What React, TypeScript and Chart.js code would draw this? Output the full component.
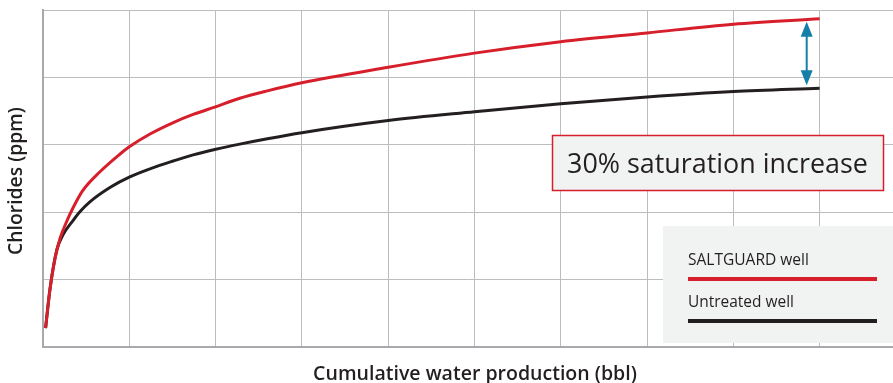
import React, { useEffect, useRef } from "react";
import { Chart, registerables } from "chart.js";

Chart.register(...registerables);

// Cumulative water production (grid units) and chlorides (grid units)
const saltguardX = [0.03, 0.08, 0.14, 0.2, 0.28, 0.35, 0.46, 0.66, 0.89, 1.0, 1.24, 1.51, 1.74, 1.99, 2.28, 2.6, 3.0, 4.0, 5.0, 6.0, 7.0, 8.0, 9.0];
const saltguardY = [0.28, 0.85, 1.32, 1.62, 1.88, 2.07, 2.32, 2.6, 2.86, 2.97, 3.16, 3.33, 3.45, 3.56, 3.69, 3.8, 3.92, 4.15, 4.36, 4.53, 4.66, 4.79, 4.87];

const untreatedX = [0.03, 0.08, 0.16, 0.23, 0.35, 0.43, 0.54, 0.78, 1.0, 1.32, 1.51, 1.74, 1.99, 2.28, 2.6, 3.0, 4.0, 5.0, 6.0, 7.0, 8.0, 9.0];
const untreatedY = [0.28, 0.85, 1.44, 1.66, 1.88, 2.01, 2.15, 2.37, 2.52, 2.68, 2.76, 2.85, 2.93, 3.01, 3.09, 3.18, 3.36, 3.49, 3.61, 3.71, 3.79, 3.84];

const seriesLabels = ["SALTGUARD well", "Untreated well"];
const xTitle = "Cumulative water production (bbl)";
const yTitle = "Chlorides (ppm)";
const annotationText = "30% saturation increase";
const arrowX = 8.85;

const RED = "#d71f2b";
const BLACK = "#231f20";
const TEAL = "#1480a7";
const GRID = "#bcbdc0";
const AXIS = "#a7a9ac";
const BOX = "#f1f2f2";
const FONT = '"Open Sans", sans-serif';

function fitFont(ctx: CanvasRenderingContext2D, text: string, weight: string, width: number) {
  ctx.font = `${weight} 100px ${FONT}`;
  const w = ctx.measureText(text).width;
  const size = (100 * width) / w;
  ctx.font = `${weight} ${size}px ${FONT}`;
}

const decorations = {
  id: "decorations",
  afterDraw(chart: any) {
    const ctx: CanvasRenderingContext2D = chart.ctx;
    const xs = chart.scales.x;
    const ys = chart.scales.y;
    ctx.save();

    // Axis titles
    ctx.fillStyle = BLACK;
    fitFont(ctx, xTitle, "600", 324);
    ctx.textAlign = "center";
    ctx.textBaseline = "alphabetic";
    ctx.fillText(xTitle, 475, 380);

    ctx.save();
    ctx.translate(22, 181);
    ctx.rotate(-Math.PI / 2);
    fitFont(ctx, yTitle, "600", 148);
    ctx.textAlign = "center";
    ctx.textBaseline = "alphabetic";
    ctx.fillText(yTitle, 0, 0);
    ctx.restore();

    // Double arrow between the two curve ends
    const ax = xs.getPixelForValue(arrowX);
    const yTop = ys.getPixelForValue(saltguardY[saltguardY.length - 1]) + 3;
    const yBot = ys.getPixelForValue(untreatedY[untreatedY.length - 1]) - 3;
    const headH = 15;
    const headW = 6;
    ctx.strokeStyle = TEAL;
    ctx.fillStyle = TEAL;
    ctx.lineWidth = 2;
    ctx.beginPath();
    ctx.moveTo(ax, yTop + headH - 2);
    ctx.lineTo(ax, yBot - headH + 2);
    ctx.stroke();
    ctx.beginPath();
    ctx.moveTo(ax, yTop);
    ctx.lineTo(ax - headW, yTop + headH);
    ctx.lineTo(ax + headW, yTop + headH);
    ctx.closePath();
    ctx.fill();
    ctx.beginPath();
    ctx.moveTo(ax, yBot);
    ctx.lineTo(ax - headW, yBot - headH);
    ctx.lineTo(ax + headW, yBot - headH);
    ctx.closePath();
    ctx.fill();

    // Annotation box
    ctx.fillStyle = BOX;
    ctx.fillRect(552.5, 135.5, 331, 55);
    ctx.strokeStyle = RED;
    ctx.lineWidth = 1.5;
    ctx.strokeRect(552.5, 135.5, 331, 55);
    ctx.fillStyle = BLACK;
    fitFont(ctx, annotationText, "400", 301);
    ctx.textAlign = "left";
    ctx.textBaseline = "alphabetic";
    ctx.fillText(annotationText, 567, 173);

    // Legend box
    ctx.fillStyle = BOX;
    ctx.fillRect(663, 226, 230, 117);
    const colors = [RED, BLACK];
    const widths = [121, 106];
    const baselines = [265, 307];
    const lineYs = [279, 321];
    seriesLabels.forEach((label, i) => {
      ctx.fillStyle = BLACK;
      fitFont(ctx, label, "400", widths[i]);
      ctx.textAlign = "left";
      ctx.fillText(label, 688, baselines[i]);
      ctx.strokeStyle = colors[i];
      ctx.lineWidth = 4;
      ctx.beginPath();
      ctx.moveTo(688, lineYs[i]);
      ctx.lineTo(877, lineYs[i]);
      ctx.stroke();
    });

    ctx.restore();
  },
};

export default function App() {
  const ref = useRef<HTMLCanvasElement>(null);

  useEffect(() => {
    if (!ref.current) return;
    const chart = new Chart(ref.current, {
      type: "line",
      data: {
        datasets: [
          {
            label: seriesLabels[0],
            data: saltguardX.map((x, i) => ({ x, y: saltguardY[i] })),
            borderColor: RED,
            borderWidth: 3,
            pointRadius: 0,
            cubicInterpolationMode: "monotone",
          },
          {
            label: seriesLabels[1],
            data: untreatedX.map((x, i) => ({ x, y: untreatedY[i] })),
            borderColor: BLACK,
            borderWidth: 3,
            pointRadius: 0,
            cubicInterpolationMode: "monotone",
          },
        ],
      },
      options: {
        responsive: false,
        animation: false,
        devicePixelRatio: 1,
        layout: { padding: { left: 43, top: 10, right: 0, bottom: 36 } },
        plugins: { legend: { display: false }, tooltip: { enabled: false } },
        scales: {
          x: {
            type: "linear",
            min: 0,
            max: 9.85,
            ticks: { display: false, stepSize: 1, includeBounds: false },
            grid: { color: GRID, lineWidth: 1, drawTicks: false },
            border: { color: AXIS, width: 2 },
          },
          y: {
            type: "linear",
            min: 0,
            max: 5,
            ticks: { display: false, stepSize: 1 },
            grid: { color: GRID, lineWidth: 1, drawTicks: false },
            border: { color: AXIS, width: 2 },
          },
        },
      },
      plugins: [decorations],
    });
    return () => chart.destroy();
  }, []);

  return (
    <div style={{ position: "absolute", left: 0, top: 0, width: 893, height: 383, background: "#fff" }}>
      <canvas ref={ref} width={893} height={383} style={{ display: "block" }} />
    </div>
  );
}
